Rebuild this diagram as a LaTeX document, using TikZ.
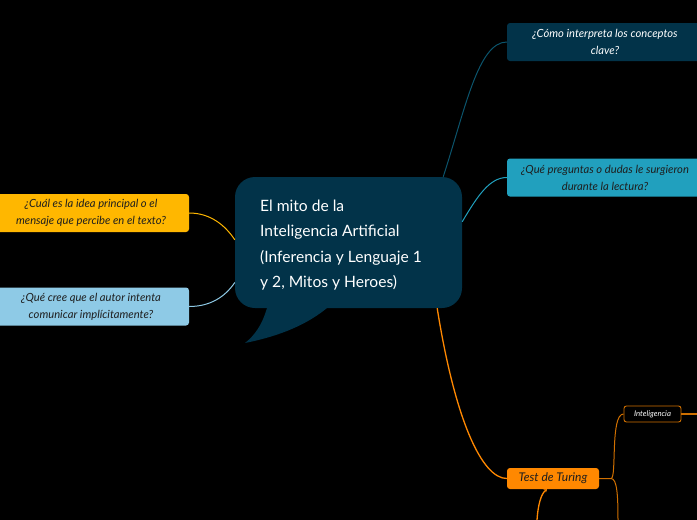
\documentclass[tikz,border=0pt]{standalone}
\usepackage{fontspec}
\setmainfont{Lato}
\usetikzlibrary{arrows.meta}
\definecolor{darkteal}{HTML}{023349}
\definecolor{cyanq}{HTML}{21A0BE}
\definecolor{yellowq}{HTML}{FFB700}
\definecolor{lightq}{HTML}{8ECAE6}
\definecolor{orangeq}{HTML}{FF8800}
\definecolor{brq}{HTML}{D07000}
\definecolor{txtdark}{HTML}{1E1E1E}
\tikzset{
  qbox/.style={rounded corners=3pt, minimum width=196pt, minimum height=38pt, align=center, inner sep=0pt, font=\fontsize{11.2}{17}\selectfont\itshape},
  conn/.style={line width=1pt},
}
\begin{document}
\begin{tikzpicture}[x=1pt,y=-1pt]
\useasboundingbox[fill=black] (0,0) rectangle (697,520);
% central callout
\node[fill=darkteal, rounded corners=20pt, minimum width=227pt, minimum height=131pt, inner sep=0pt] (c) at (348.5,242.5) {};
\fill[darkteal] (267,300) -- (267,308) .. controls (262,325) and (255,335) .. (245,343) .. controls (285,335) and (310,322) .. (327,308) -- (327,300) -- cycle;
\node[anchor=north west, text=white, align=left, inner sep=0pt, font=\fontsize{15.6}{25.3}\selectfont] (ct) at (260,200) {El mito de la\\Inteligencia Artificial\\(Inferencia y Lenguaje 1\\y 2, Mitos y Heroes)};
% question nodes
\node[qbox, fill=darkteal, text=white] (q1) at (605,42) {¿Cómo interpreta los conceptos\\clave?};
\node[qbox, fill=cyanq, text=txtdark] (q2) at (605,177.5) {¿Qué preguntas o dudas le surgieron\\durante la lectura?};
\node[qbox, fill=yellowq, text=txtdark] (q3) at (91,213) {¿Cuál es la idea principal o el\\mensaje que percibe en el texto?};
\node[qbox, fill=lightq, text=txtdark] (q4) at (91,306.5) {¿Qué cree que el autor intenta\\comunicar implícitamente?};
% Test de Turing
\node[fill=orangeq, rounded corners=3pt, minimum width=92pt, minimum height=21pt, inner sep=0pt, text=txtdark, font=\fontsize{12}{13}\selectfont\itshape] (t) at (553,478.5) {Test de Turing};
\node[fill=black, draw=brq, line width=0.9pt, rounded corners=2.5pt, minimum width=57pt, minimum height=16pt, inner sep=0pt, text=white, font=\fontsize{7.8}{9}\selectfont\itshape] (i) at (652.5,414) {Inteligencia};
% connectors
\draw[conn, darkteal!70!cyanq] ([xshift=-19pt]c.north east) .. controls (465,110) and (478,42) .. (q1.west);
\draw[conn, cyanq] ([yshift=-45pt]c.north east) .. controls (478,195) and (490,177.5) .. (q2.west);
\draw[conn, yellowq] ([yshift=-63pt]c.north west) .. controls (225,225) and (210,213) .. (q3.east);
\draw[conn, lightq] ([yshift=-40pt]c.west) .. controls (225,297) and (210,306.5) .. (q4.east);
\draw[conn, orangeq, line width=1.3pt] ([xshift=-25pt]c.south east) .. controls (455,420) and (482,478.5) .. (t.west);
\coordinate (br) at (611,478.5);
\coordinate (dn) at (618,520);
\coordinate (ie) at (697,414);
\coordinate (bt) at (537,520);
\draw[conn, brq] (t.east) -- (br) .. controls (617,478.5) and (610,414) .. (i.west);
\draw[conn, brq] (br) .. controls (617,478.5) and (618,495) .. (dn);
\draw[conn, brq, line width=1.3pt] (i.east) -- (ie);
\draw[conn, orangeq, line width=1.3pt, -{Stealth[length=3pt,width=4pt]}] (bt) .. controls (538,505) and (541,494) .. ([xshift=-6pt]t.south);
\end{tikzpicture}
\end{document}
